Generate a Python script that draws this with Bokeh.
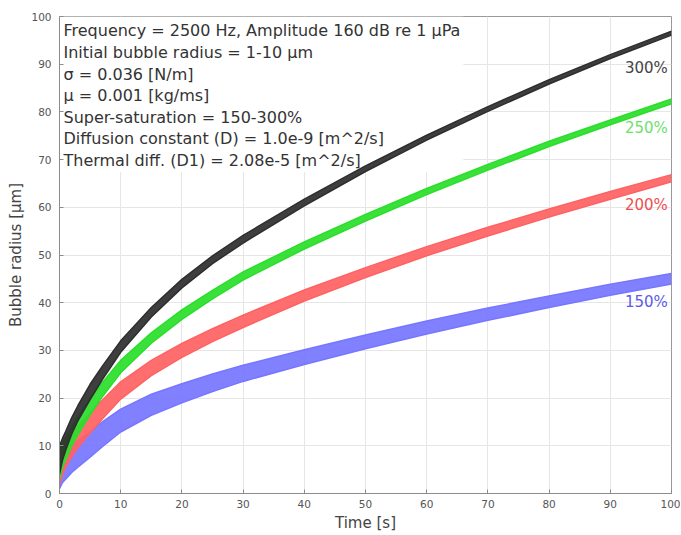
from bokeh.plotting import figure
from bokeh.models import Range1d, FixedTicker
from bokeh.core.properties import value
from bokeh.embed import file_html
from bokeh.resources import INLINE

# ---- data (time in s, radius in micrometres) ----
time_s = [0, 0.5, 1, 2, 3, 5, 7, 10, 15, 20, 25, 30, 40, 50, 60, 70, 80, 90, 100]

r300_lo = [4.0, 7.0, 9.0, 12.5, 15.2, 19.7, 23.9, 29.6, 37.0, 43.1, 48.2, 52.5, 60.3, 67.5, 74.1, 80.1, 85.85, 91.2, 96.1]
r300_hi = [10.0, 11.6, 13.0, 15.9, 18.4, 22.9, 26.7, 32.0, 39.0, 44.9, 49.8, 54.1, 61.7, 68.7, 75.1, 81.1, 86.75, 92.0, 96.9]

r250_lo = [3.0, 5.5, 7.1, 10.0, 12.3, 16.5, 20.3, 25.3, 31.5, 36.5, 40.8, 44.75, 51.25, 57.1, 62.65, 67.8, 72.75, 77.3, 81.7]
r250_hi = [9.0, 10.5, 11.5, 14.0, 16.1, 19.9, 23.3, 27.9, 33.7, 38.5, 42.6, 46.45, 52.75, 58.5, 63.95, 69.0, 73.85, 78.3, 82.7]

r200_lo = [2.0, 4.0, 5.5, 7.7, 9.6, 12.7, 15.6, 19.8, 24.7, 28.55, 31.85, 34.8, 40.35, 45.25, 49.85, 54.0, 57.95, 61.7, 65.35]
r200_hi = [8.0, 9.4, 10.5, 12.3, 14.0, 16.9, 19.6, 23.4, 27.9, 31.45, 34.55, 37.4, 42.65, 47.35, 51.75, 55.8, 59.65, 63.3, 66.85]

r150_lo = [1.0, 2.3, 3.0, 4.4, 5.5, 7.6, 9.8, 12.9, 16.4, 19.0, 21.35, 23.5, 27.05, 30.35, 33.45, 36.3, 39.0, 41.55, 43.9]
r150_hi = [7.0, 8.3, 9.0, 10.2, 11.1, 13.0, 15.0, 17.7, 20.8, 23.0, 25.05, 26.9, 30.15, 33.25, 36.15, 38.9, 41.4, 43.85, 46.1]

band_labels = ["150%", "200%", "250%", "300%"]
x_ticks = [0, 10, 20, 30, 40, 50, 60, 70, 80, 90, 100]
y_ticks = [0, 10, 20, 30, 40, 50, 60, 70, 80, 90, 100]

info_lines = [
    "Frequency = 2500 Hz, Amplitude 160 dB re 1 \u03bcPa",
    "Initial bubble radius = 1-10 \u03bcm",
    "\u03c3 = 0.036 [N/m]",
    "\u03bc = 0.001 [kg/ms]",
    "Super-saturation = 150-300%",
    "Diffusion constant (D) = 1.0e-9 [m^2/s]",
    "Thermal diff. (D1) = 2.08e-5 [m^2/s]",
]

FONT = "DejaVu Sans"

p = figure(width=680, height=534, output_backend="svg", toolbar_location=None,
           x_range=Range1d(0, 100), y_range=Range1d(0, 100),
           min_border_left=59, min_border_right=9, min_border_top=16, min_border_bottom=39)
p.background_fill_color = "white"
p.border_fill_color = "white"
p.outline_line_color = "#999999"

for ax in (p.xaxis[0], p.yaxis[0]):
    ax.major_tick_in = 4
    ax.major_tick_out = 0
    ax.minor_tick_line_color = None
    ax.axis_line_color = "#8c8c8c"
    ax.major_tick_line_color = "#8c8c8c"
    ax.major_label_text_font = FONT
    ax.major_label_text_font_size = "10.5px"
    ax.major_label_text_color = "#555555"
    ax.axis_label_text_font = FONT
    ax.axis_label_text_font_size = "15px"
    ax.axis_label_text_font_style = "normal"
    ax.axis_label_text_color = "#444444"

p.xaxis[0].ticker = FixedTicker(ticks=x_ticks)
p.yaxis[0].ticker = FixedTicker(ticks=y_ticks)
p.xaxis[0].axis_label = "Time [s]"
p.yaxis[0].axis_label = "Bubble radius [\u03bcm]"
p.xaxis[0].major_label_standoff = 6
p.xaxis[0].axis_label_standoff = 3
p.yaxis[0].major_label_standoff = 8
p.yaxis[0].axis_label_standoff = 3

p.xgrid.ticker = FixedTicker(ticks=x_ticks)
p.ygrid.ticker = FixedTicker(ticks=y_ticks)
p.xgrid.grid_line_color = "#e6e6e6"
p.ygrid.grid_line_color = "#e6e6e6"

# white box behind the information text (drawn above the grid, below the curves)
p.quad(left=[0], right=[66], bottom=[67.4], top=[100], fill_color="white", line_color=None)

n = len(info_lines)
p.text(x=[0.65] * n, y=[97.0 - 4.53 * i for i in range(n)], text=info_lines,
       text_font=value(FONT), text_font_size="16px", text_color="#333333",
       text_baseline="middle", text_align="left")

bands = [
    (r150_lo, r150_hi, "#7676ff", "#5c5ce8"),
    (r200_lo, r200_hi, "#ff6262", "#ee5050"),
    (r250_lo, r250_hi, "#2ade2a", "#6ee06e"),
    (r300_lo, r300_hi, "#2e2e2e", "#444444"),
]
label_y = [40.2, 60.5, 76.6, 89.1]

for (lo, hi, col, lcol), lab, ly in zip(bands, band_labels, label_y):
    p.varea(x=time_s, y1=lo, y2=hi, fill_color=col, fill_alpha=0.92)
    p.line(time_s, lo, line_color=col, line_width=1.5)
    p.line(time_s, hi, line_color=col, line_width=1.5)
    p.text(x=[99.4], y=[ly], text=[lab], text_font=value(FONT), text_font_size="15px",
           text_color=lcol, text_align="right", text_baseline="middle")

open("out.html", "w").write(file_html(p, INLINE))
